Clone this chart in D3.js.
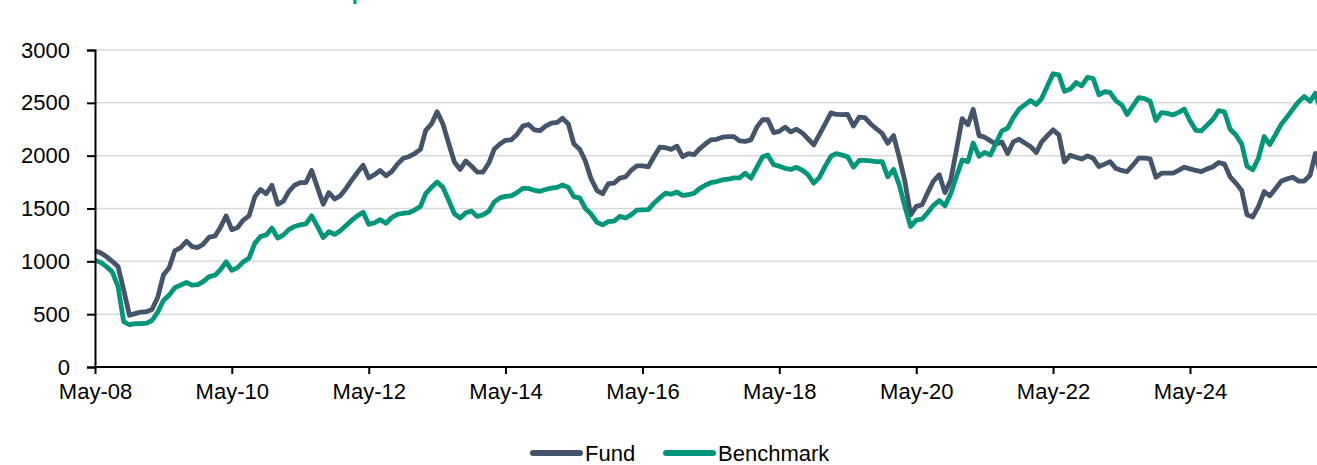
<!doctype html>
<html lang="en">
  <head>
    <meta charset="UTF-8" />
    <title>Fund vs Benchmark</title>
    <style>
      body { margin: 0; background: #fff; }
      svg { display: block; font-family: "Liberation Sans", Arial, sans-serif; }
      .grid line { stroke: #d9d9d9; stroke-width: 1.5px; }
      .axis path, .axis line { stroke: #000; stroke-width: 2px; }
      .axis text { font-size: 22px; fill: #000; }
      .series { fill: none; stroke-width: 4.8px; stroke-linejoin: round; }
    </style>
  </head>
  <body>
    <div id="chart"></div>
    <script src="https://d3js.org/d3.v7.min.js"></script>
    <script>
      // monthly series, first point May 2008
      const startMonth = new Date(2008, 4, 1);

      const fund = [
        1100, 1080, 1045, 1000, 950, 730, 490, 505, 520, 525, 545, 660,
        870, 940, 1100, 1130, 1190, 1140, 1130, 1165, 1230, 1240, 1320, 1430,
        1300, 1320, 1390, 1430, 1610, 1680, 1640, 1720, 1540, 1570, 1660, 1720,
        1745, 1745, 1860, 1700, 1540, 1650, 1590, 1620, 1690, 1770, 1840, 1910,
        1790, 1820, 1860, 1810, 1850, 1920, 1975, 1990, 2020, 2060, 2240, 2300,
        2415, 2300, 2120, 1940, 1870, 1950, 1900, 1845, 1845, 1930, 2060, 2110,
        2145, 2150, 2200, 2280, 2295, 2245, 2238, 2280, 2308, 2314, 2355, 2300,
        2110, 2060, 1950, 1780, 1670, 1640, 1735, 1740, 1787, 1800, 1860, 1903,
        1903, 1895, 1990, 2080, 2075, 2060, 2090, 1990, 2020, 2010, 2065, 2110,
        2150, 2155, 2175, 2180, 2180, 2140, 2135, 2150, 2270, 2340, 2340, 2219,
        2230, 2270, 2225, 2250, 2215, 2160, 2102, 2200, 2300, 2405, 2390, 2388,
        2390, 2280, 2364, 2360, 2300, 2255, 2210, 2118, 2190, 1980, 1760, 1440,
        1520, 1535, 1650, 1760, 1820, 1650, 1770, 2050, 2350, 2292, 2440, 2190,
        2175, 2140, 2110, 2130, 2020, 2130, 2156, 2120, 2086, 2030, 2130, 2190,
        2244, 2197, 1940, 2005, 1985, 1968, 1998, 1976, 1897, 1920, 1944, 1880,
        1860, 1850, 1910, 1976, 1976, 1970, 1796, 1834, 1834, 1834, 1860, 1891,
        1875, 1860, 1850, 1875, 1895, 1935, 1920, 1800, 1740, 1670, 1440, 1420,
        1518, 1660, 1620, 1690, 1760, 1780, 1796, 1760, 1760, 1815, 2020, 1800
      ];

      const benchmark = [
        1010, 990, 950, 900, 760, 430, 400, 410, 410, 415, 440, 520,
        630, 680, 750, 775, 800, 775, 780, 810, 855, 870, 920, 995,
        915, 940, 995, 1030, 1170, 1235, 1250, 1315, 1220, 1250, 1300, 1330,
        1345, 1355, 1430, 1330, 1225, 1280, 1255, 1290, 1340, 1390, 1430, 1465,
        1350, 1365, 1395, 1360, 1415, 1445, 1455, 1460, 1485, 1520, 1640, 1700,
        1750, 1700, 1580, 1450, 1410, 1460, 1475, 1425, 1440, 1475, 1560, 1600,
        1615, 1620, 1650, 1690, 1690, 1672, 1663, 1680, 1692, 1700, 1723, 1700,
        1610, 1600, 1500, 1447, 1370, 1345, 1376, 1380, 1425, 1410, 1440, 1485,
        1487, 1490, 1550, 1600, 1645, 1635, 1655, 1625, 1630, 1645, 1688, 1720,
        1745, 1755, 1770, 1777, 1790, 1790, 1834, 1787, 1890, 1990, 2005, 1915,
        1900, 1880, 1870, 1890, 1862, 1820, 1740, 1795, 1900, 1995, 2020, 2005,
        1990, 1891, 1955, 1955, 1950, 1944, 1944, 1800, 1870, 1720, 1520, 1330,
        1390, 1400, 1460, 1530, 1575, 1525, 1640, 1800, 1960, 1944, 2120, 1995,
        2030, 2007, 2120, 2235, 2260, 2360, 2440, 2480, 2522, 2485, 2540, 2660,
        2775, 2765, 2610, 2630, 2692, 2660, 2740, 2730, 2576, 2605, 2600, 2520,
        2485, 2390, 2470, 2550, 2540, 2515, 2333, 2408, 2400, 2386, 2410, 2440,
        2330, 2240, 2235, 2290, 2345, 2427, 2415, 2250, 2195, 2110, 1900, 1866,
        1976, 2181, 2105, 2200, 2300, 2365, 2440, 2510, 2560, 2515, 2590, 2420
      ];

      const yTicks = [0, 500, 1000, 1500, 2000, 2500, 3000];
      const xTickYears = [2008, 2010, 2012, 2014, 2016, 2018, 2020, 2022, 2024];
      const seriesNames = ['Fund', 'Benchmark'];
      const colors = ['#44546a', '#00967a'];

      const width = 1317;
      const height = 465;

      const months = d3.timeMonth.range(startMonth, d3.timeMonth.offset(startMonth, fund.length));

      const svg = d3.select('#chart').append('svg').attr('width', width).attr('height', height);

      // scales: May-08 .. May-24 pinned to the tick positions, later months extrapolate
      const x = d3.scaleTime().domain([new Date(2008, 4, 1), new Date(2024, 4, 1)]).range([95, 1190]);
      const y = d3.scaleLinear().domain([0, 3000]).range([367, 50]);

      // title, mostly above the visible area
      svg.append('text')
        .attr('x', 227)
        .attr('y', -1)
        .attr('fill', '#00967a')
        .attr('font-size', 22)
        .attr('font-weight', 'bold')
        .text('Cumulative performance');

      // gridlines
      svg.append('g')
        .attr('class', 'grid')
        .selectAll('line')
        .data(yTicks)
        .enter()
        .append('line')
        .attr('x1', 95)
        .attr('x2', width)
        .attr('y1', (d) => y(d))
        .attr('y2', (d) => y(d));

      // lines
      const line = d3.line().x((d, i) => x(months[i])).y((d) => y(d));
      [fund, benchmark].forEach((s, k) => {
        svg.append('path').datum(s).attr('class', 'series').attr('stroke', colors[k]).attr('d', line);
      });

      // y axis
      svg.append('g')
        .attr('class', 'axis')
        .attr('transform', 'translate(95,0)')
        .call(d3.axisLeft(y).tickValues(yTicks).tickFormat(d3.format('d')).tickSize(8).tickPadding(17));

      // x axis
      const xAxis = svg.append('g')
        .attr('class', 'axis')
        .attr('transform', 'translate(0,367)')
        .call(
          d3.axisBottom(x)
            .tickValues(xTickYears.map((yr) => new Date(yr, 4, 1)))
            .tickFormat(d3.timeFormat('%b-%y'))
            .tickSize(7)
            .tickPadding(9)
        );
      xAxis.select('.domain').remove();
      xAxis.append('line').attr('x1', 95).attr('x2', width).attr('y1', 0).attr('y2', 0).attr('stroke', '#000').attr('stroke-width', 2);

      // legend
      const legendX = [530, 663];
      const legend = svg.append('g').attr('transform', 'translate(0,453)');
      seriesNames.forEach((name, k) => {
        legend.append('line')
          .attr('x1', legendX[k] + 3)
          .attr('x2', legendX[k] + 50)
          .attr('y1', 0)
          .attr('y2', 0)
          .attr('stroke', colors[k])
          .attr('stroke-width', 6)
          .attr('stroke-linecap', 'round');
        legend.append('text')
          .attr('x', legendX[k] + 55)
          .attr('y', 8)
          .attr('font-size', 22)
          .attr('fill', '#000')
          .text(name);
      });
    </script>
  </body>
</html>
